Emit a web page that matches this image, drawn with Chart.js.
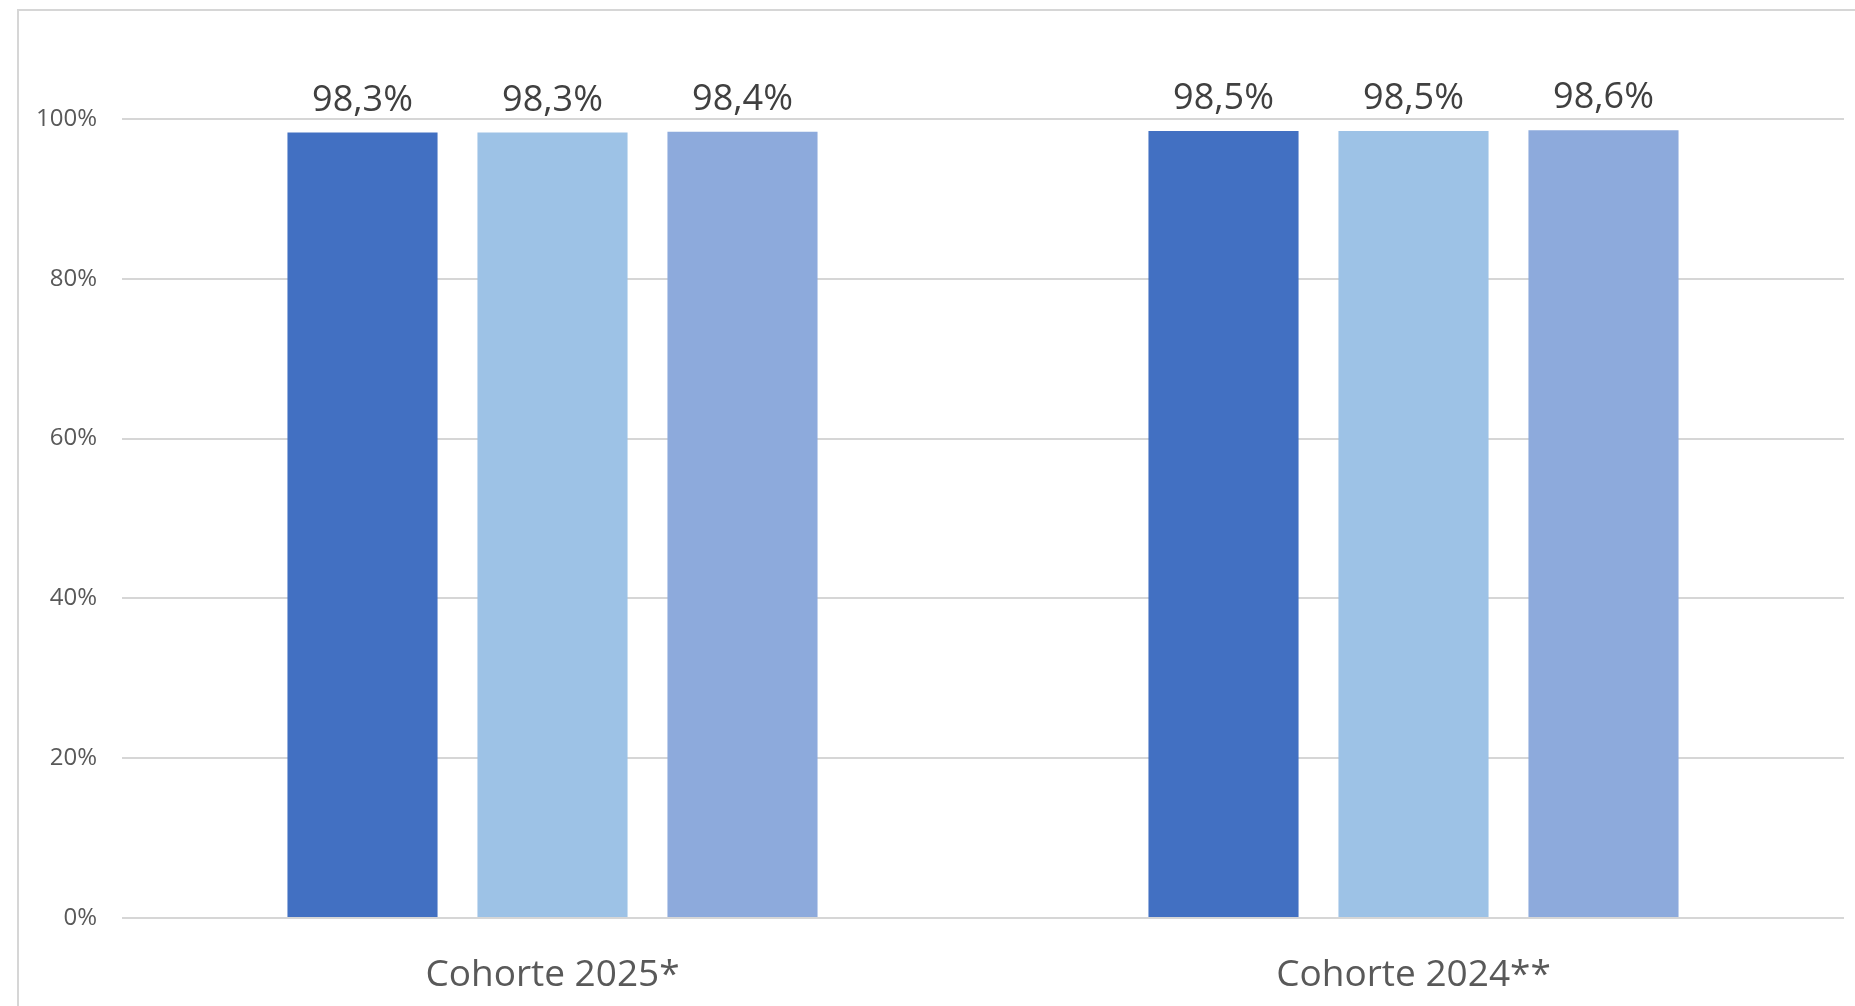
<!DOCTYPE html>
<html>
<head>
<meta charset="utf-8">
<script src="https://cdn.jsdelivr.net/npm/chart.js@4/dist/chart.umd.min.js"></script>
<style>
html,body{margin:0;padding:0;background:#fff;width:1855px;height:1006px;overflow:hidden;}
#frame{position:absolute;left:17px;top:9px;width:1850px;height:1010px;border-left:2px solid #d6d6d6;border-top:2px solid #d6d6d6;box-sizing:border-box;}
#wrap{position:absolute;left:0;top:0;width:1855px;height:1006px;}
</style>
</head>
<body>
<div id="frame"></div>
<div id="wrap"><canvas id="c" width="1855" height="1006"></canvas></div>
<script>
const categories = ["Cohorte 2025*", "Cohorte 2024**"];
const series1 = [98.3, 98.5];
const series2 = [98.3, 98.5];
const series3 = [98.4, 98.6];
const seriesNames = ["Série 1", "Série 2", "Série 3"];
const yTicks = [0, 20, 40, 60, 80, 100];

const FONT = "'Open Sans', 'Noto Sans', sans-serif";

const valueLabels = {
  id: 'valueLabels',
  afterDatasetsDraw(chart) {
    const ctx = chart.ctx;
    ctx.save();
    ctx.font = "36px " + FONT;
    ctx.fillStyle = "#404040";
    ctx.textAlign = "center";
    ctx.textBaseline = "alphabetic";
    chart.data.datasets.forEach((ds, i) => {
      const meta = chart.getDatasetMeta(i);
      meta.data.forEach((bar, j) => {
        const v = ds.data[j];
        const txt = v.toFixed(1).replace('.', ',') + '%';
        ctx.fillText(txt, bar.x, bar.y - 22);
      });
    });
    ctx.restore();
  }
};

new Chart(document.getElementById('c'), {
  type: 'bar',
  data: {
    labels: categories,
    datasets: [
      {label: seriesNames[0], data: series1, backgroundColor: '#4270C2'},
      {label: seriesNames[1], data: series2, backgroundColor: '#9DC2E6'},
      {label: seriesNames[2], data: series3, backgroundColor: '#8DAADC'}
    ]
  },
  options: {
    responsive: false,
    animation: false,
    devicePixelRatio: 1,
    layout: {padding: {top: 119, right: 11, left: 0, bottom: 0}},
    categoryPercentage: 0.662,
    barPercentage: 0.79,
    plugins: {legend: {display: false}, tooltip: {enabled: false}},
    scales: {
      x: {
        grid: {display: false, drawTicks: false},
        border: {display: false},
        ticks: {font: {family: FONT, size: 37}, color: '#595959', padding: 35},
        afterFit(scale) { scale.height = 88; }
      },
      y: {
        min: 0, max: 100,
        afterBuildTicks(scale) { scale.ticks = yTicks.map(v => ({value: v})); },
        grid: {color: '#d6d6d6', lineWidth: 2, drawTicks: false},
        border: {display: false},
        ticks: {
          font: {family: FONT, size: 24}, color: '#595959', padding: 25,
          callback: v => v + '%'
        },
        afterFit(scale) { scale.width = 122; }
      }
    }
  },
  plugins: [valueLabels]
});
</script>
</body>
</html>
